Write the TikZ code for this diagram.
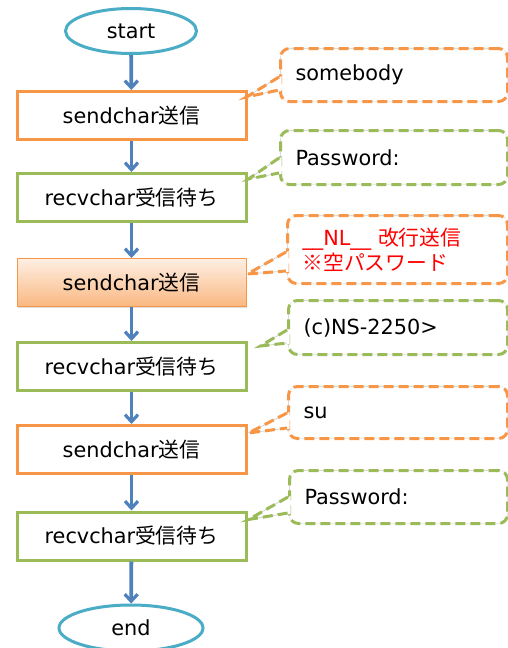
\documentclass[tikz,border=0pt]{standalone}
\usepackage{fontspec}
\setmainfont{DejaVu Sans}
\newfontfamily\jp{Noto Sans CJK JP}
\usetikzlibrary{calc,arrows.meta,shapes.geometric,shadows}
\definecolor{orange1}{HTML}{F79646}
\definecolor{green1}{HTML}{9BBB59}
\definecolor{blue1}{HTML}{4F81BD}
\definecolor{aqua1}{HTML}{4BACC6}
\definecolor{redtext}{HTML}{FF0000}
\tikzset{
  txt/.style={font=\fontsize{20.8}{25}\selectfont, text=black},
  terminal/.style={ellipse, draw=aqua1, line width=3pt, fill=white, txt, inner sep=0pt},
  boxbase/.style={rectangle, minimum width=229pt, minimum height=48pt, inner sep=0pt, line width=3pt, fill=white, txt},
  sendbox/.style={boxbase, draw=orange1},
  recvbox/.style={boxbase, draw=green1},
  hotbox/.style={boxbase, draw=orange1, line width=1pt, top color=orange1!15, bottom color=orange1!68,
     drop shadow={opacity=0.25, shadow xshift=1.2pt, shadow yshift=-1.2pt}},
  flow/.style={draw=blue1, line width=3.8pt, -{Straight Barb[length=7pt, width=13pt, line width=3.2pt]}},
  callbase/.style={rectangle, rounded corners=9pt, line width=3pt, dash pattern=on 10pt off 5pt,
     fill=white, anchor=north west, inner xsep=15pt, inner ysep=0pt, align=left, txt,
     preaction={draw=black!22, line width=0.6pt, solid}},
  callorange/.style={callbase, draw=orange1},
  callgreen/.style={callbase, draw=green1},
  wedgebase/.style={line width=3pt, dash pattern=on 10pt off 5pt, line join=miter,
     preaction={draw=black!22, line width=0.6pt, solid}},
}
\begin{document}
\begin{tikzpicture}[x=1pt, y=-1pt]
\useasboundingbox (0,0) rectangle (508,648);

% flow nodes
\node[terminal, minimum width=131pt, minimum height=45pt] (s) at (131,31) {start};
\node[sendbox] (b1) at (131.5,115.5) {sendchar{\jp 送信}};
\node[recvbox] (b2) at (131.5,197.5) {recvchar{\jp 受信待ち}};
\node[hotbox]  (b3) at (131.5,282.5) {sendchar{\jp 送信}};
\node[recvbox] (b4) at (131.5,366.5) {recvchar{\jp 受信待ち}};
\node[sendbox] (b5) at (131.5,449.5) {sendchar{\jp 送信}};
\node[recvbox] (b6) at (131.5,536) {recvchar{\jp 受信待ち}};
\node[terminal, minimum width=144pt, minimum height=46pt] (e) at (131,628) {end};

% arrows
\draw[flow] (s) -- (b1);
\draw[flow] (b1) -- (b2);
\draw[flow] (b2) -- (b3);
\draw[flow] (b3) -- (b4);
\draw[flow] (b4) -- (b5);
\draw[flow] (b5) -- (b6);
\draw[flow] (b6) -- (e);

% callouts
\node[callorange, minimum width=227pt, minimum height=53pt, text width=197pt] (c1) at (279,47) {somebody};
\node[callgreen,  minimum width=227pt, minimum height=54pt, text width=197pt] (c2) at (279,129) {Password:};
\node[callorange, minimum width=220pt, minimum height=68pt, text width=190pt, text=redtext] (c3) at (286,214)
   {\_\_NL\_\_ {\jp 改行送信}\\{\jp ※空パスワード}};
\node[callgreen,  minimum width=219pt, minimum height=54pt, text width=189pt] (c4) at (287,299) {(c)NS-2250>};
\node[callorange, minimum width=219pt, minimum height=52pt, text width=189pt] (c5) at (287,385) {su};
\node[callgreen,  minimum width=218pt, minimum height=53pt, text width=188pt] (c6) at (288,469) {Password:};

% pointer tips
\coordinate (t1) at ($(b1.north east)+(-1,7)$);
\coordinate (t2) at ($(b2.north east)+(1,7)$);
\coordinate (t3) at ($(b3.north east)+(1,16)$);
\coordinate (t4) at ($(b4.north east)+(13,5)$);
\coordinate (t5) at ($(b5.north east)+(1,9)$);
\coordinate (t6) at ($(b6.north east)+(1,9)$);
% pointer bases
\coordinate (u1) at ($(c1.north west)+(0,30)$); \coordinate (l1) at ($(c1.north west)+(0,43)$);
\coordinate (u2) at ($(c2.north west)+(0,29)$); \coordinate (l2) at ($(c2.north west)+(0,44)$);
\coordinate (u3) at ($(c3.north west)+(0,38)$); \coordinate (l3) at ($(c3.north west)+(0,57)$);
\coordinate (u4) at ($(c4.north west)+(0,31)$); \coordinate (l4) at ($(c4.north west)+(0,44)$);
\coordinate (u5) at ($(c5.north west)+(0,28)$); \coordinate (l5) at ($(c5.north west)+(0,43)$);
\coordinate (u6) at ($(c6.north west)+(0,28)$); \coordinate (l6) at ($(c6.north west)+(0,44)$);

\foreach \i/\c in {1/orange1,2/green1,3/orange1,4/green1,5/orange1,6/green1}{
  \fill[white] ($(u\i)+(2.5,-1)$) -- (t\i) -- ($(l\i)+(2.5,1)$) -- cycle;
  \draw[wedgebase, draw=\c] (u\i) -- (t\i) -- (l\i);
}
\end{tikzpicture}
\end{document}
